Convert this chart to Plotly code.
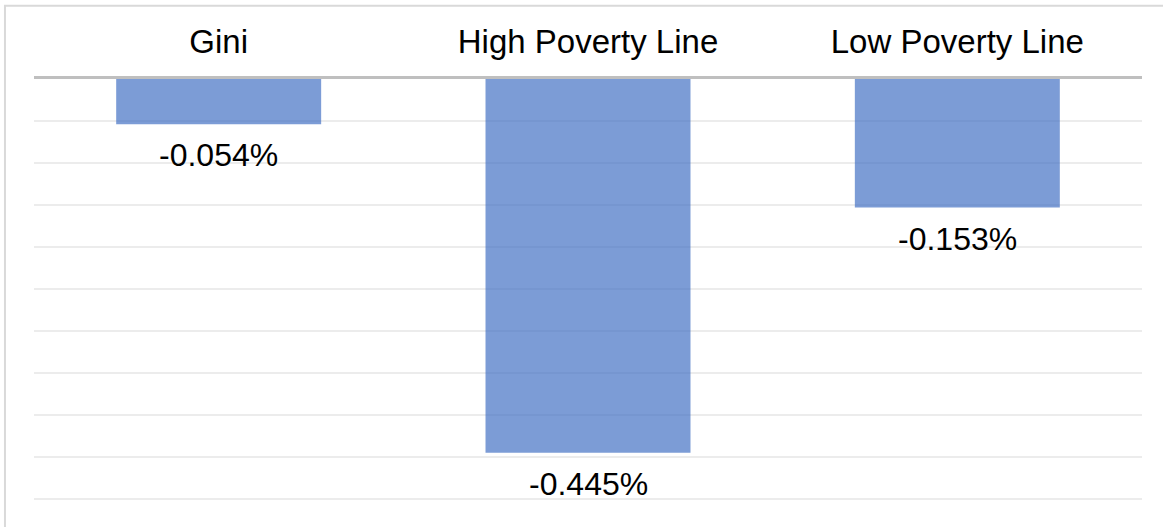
import plotly.graph_objects as go

# Change in each indicator (percent)
categories = ["Gini", "High Poverty Line", "Low Poverty Line"]
changes = [-0.054, -0.445, -0.153]
value_labels = ["-0.054%", "-0.445%", "-0.153%"]

FONT = "Liberation Sans, Arial, sans-serif"
BAR_COLOR = "rgba(68,114,196,0.7)"

fig = go.Figure(
    go.Bar(
        x=categories,
        y=changes,
        marker=dict(color=BAR_COLOR, line=dict(width=0)),
        width=0.555,
        hoverinfo="skip",
    )
)

# value labels placed just under the end of each bar
for cat, val, lab in zip(categories, changes, value_labels):
    fig.add_annotation(
        x=cat, y=val, text=lab, showarrow=False,
        xanchor="center", yanchor="top", yshift=-11,
        font=dict(family=FONT, size=32, color="#000000"),
    )

# light outer frame
fig.add_shape(
    type="rect", xref="paper", yref="paper",
    x0=-0.0262, x1=1.3, y0=-0.3, y1=1.1738,
    line=dict(color="#d9d9d9", width=2), fillcolor="rgba(0,0,0,0)",
    layer="below",
)

fig.update_layout(
    width=1163, height=527,
    margin=dict(l=34, r=21, t=79, b=27),
    paper_bgcolor="white", plot_bgcolor="white",
    showlegend=False,
    font=dict(family=FONT, size=32, color="#000000"),
    xaxis=dict(
        side="top",
        showline=True, linecolor="#bfbfbf", linewidth=3,
        showgrid=False, ticks="",
        tickfont=dict(family=FONT, size=33, color="#000000"),
        ticklabelstandoff=10,
    ),
    yaxis=dict(
        range=[-0.5012, 0],
        dtick=0.05,
        showticklabels=False,
        showgrid=True, gridcolor="#ececec", gridwidth=2,
        zeroline=False, showline=False, ticks="",
    ),
)

fig.write_html("out.html")
